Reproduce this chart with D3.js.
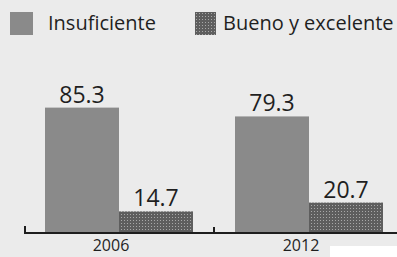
<!DOCTYPE html>
<html>
<head>
<meta charset="utf-8">
<script src="https://cdn.jsdelivr.net/npm/d3@7"></script>
<style>
  body { margin: 0; background: #ebebeb; }
  svg { display: block; }
  text { font-family: "Open Sans", sans-serif; fill: #1f1f1f; }
</style>
</head>
<body>
<script>
// datos
let years = ["2006", "2012"];
let series = ["Insuficiente", "Bueno y excelente"];
let insuficiente = [85.3, 79.3];
let bueno = [14.7, 20.7];

let WIDTH = 397, HEIGHT = 257;
let baseY = 233;

let svg = d3.select("body").append("svg")
    .attr("width", WIDTH)
    .attr("height", HEIGHT);

// patron punteado para la segunda serie
let defs = svg.append("defs");
let pat = defs.append("pattern")
    .attr("id", "dots")
    .attr("width", 3).attr("height", 3)
    .attr("patternUnits", "userSpaceOnUse");
pat.append("rect").attr("width", 3).attr("height", 3).attr("fill", "#5e5e5e");
pat.append("rect").attr("x", 1).attr("y", 1).attr("width", 1).attr("height", 1).attr("fill", "#a8a8a8");

let colors = {"Insuficiente": "#8a8a8a", "Bueno y excelente": "url(#dots)"};

let rows = years.map((y, i) => ({year: y, values: [
    {key: series[0], value: insuficiente[i]},
    {key: series[1], value: bueno[i]}
]}));

let x0 = d3.scaleBand().domain(years).range([24, 404]);
let x1 = d3.scaleBand().domain(series).range([21, 169]);
let y = d3.scaleLinear().domain([0, 100]).range([baseY, 86]);

let groups = svg.append("g").selectAll("g")
    .data(rows)
    .enter().append("g")
    .attr("transform", d => "translate(" + x0(d.year) + ",0)");

groups.selectAll("rect")
    .data(d => d.values)
    .enter().append("rect")
    .attr("x", d => x1(d.key))
    .attr("y", d => y(d.value))
    .attr("width", x1.bandwidth())
    .attr("height", d => baseY - y(d.value))
    .attr("fill", d => colors[d.key]);

groups.selectAll("text.val")
    .data(d => d.values)
    .enter().append("text")
    .attr("class", "val")
    .attr("x", d => x1(d.key) + x1.bandwidth() / 2)
    .attr("y", d => y(d.value) - 5)
    .attr("text-anchor", "middle")
    .attr("font-size", 23)
    .text(d => d.value.toFixed(1));

// eje
let axis = svg.append("g");
axis.append("line")
    .attr("x1", 24).attr("x2", WIDTH)
    .attr("y1", baseY).attr("y2", baseY)
    .attr("stroke", "#1e1e1e").attr("stroke-width", 2);
axis.selectAll("line.tick")
    .data(years)
    .enter().append("line")
    .attr("class", "tick")
    .attr("x1", d => x0(d) + (d === years[0] ? 1 : 0))
    .attr("x2", d => x0(d) + (d === years[0] ? 1 : 0))
    .attr("y1", d => d === years[0] ? 226 : 227)
    .attr("y2", baseY)
    .attr("stroke", "#1e1e1e").attr("stroke-width", 2);
axis.selectAll("text")
    .data(years)
    .enter().append("text")
    .attr("x", d => x0(d) + x0.bandwidth() / 2 - 8)
    .attr("y", 251)
    .attr("text-anchor", "middle")
    .attr("font-size", 16)
    .text(d => d);

// leyenda
let legendX = [10, 195];
let legend = svg.append("g").selectAll("g")
    .data(series)
    .enter().append("g")
    .attr("transform", (d, i) => "translate(" + legendX[i] + ",12)");
legend.append("rect")
    .attr("width", (d, i) => i === 0 ? 23 : 21)
    .attr("height", 23)
    .attr("fill", d => colors[d]);
legend.append("text")
    .attr("x", (d, i) => i === 0 ? 38 : 28)
    .attr("y", 18)
    .attr("font-size", 20)
    .text(d => d);

// mancha blanca del escaneo
svg.append("rect")
    .attr("x", 330).attr("y", 246)
    .attr("width", 67).attr("height", 11)
    .attr("fill", "#ffffff");
</script>
</body>
</html>
